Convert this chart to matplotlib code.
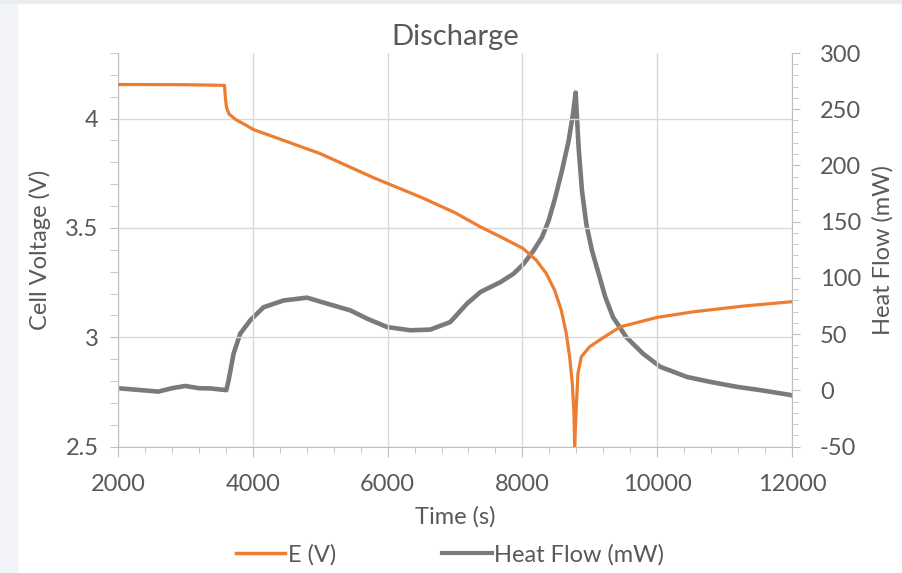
import matplotlib.pyplot as plt
import matplotlib.patches as mpatches
from matplotlib.lines import Line2D
from matplotlib.ticker import MultipleLocator

# ---------- data ----------
time_e = [2000, 3000, 3580, 3595, 3610, 3650, 3750, 3900, 4010, 5000, 5790,
          6500, 7000, 7377, 7674, 8007, 8205, 8354, 8478, 8576, 8651, 8701,
          8740, 8765, 8775, 8800, 8824, 8874, 8998, 9196, 9453, 9997,
          10540, 11282, 12000]
voltage = [4.156, 4.155, 4.152, 4.09, 4.05, 4.02, 3.995, 3.97, 3.95, 3.84, 3.73,
           3.64, 3.57, 3.505, 3.46, 3.407, 3.353, 3.292, 3.216, 3.125, 3.018, 2.911,
           2.79, 2.653, 2.5, 2.683, 2.835, 2.911, 2.957, 2.998, 3.048, 3.091,
           3.117, 3.143, 3.163]

time_h = [2000, 2200, 2400, 2600, 2800, 3000, 3200, 3369, 3607, 3641, 3715,
          3814, 3963, 4160, 4457, 4804, 5101, 5447, 5694, 5991, 6337, 6633,
          6930, 7178, 7377, 7674, 7870, 8018, 8166, 8290, 8389, 8488, 8587,
          8686, 8750, 8790, 8834, 8884, 8948, 9032, 9131, 9230, 9343, 9540,
          9788, 10046, 10442, 10788, 11184, 11530, 11975, 12000]
heat_flow = [2, 1, 0, -1, 2, 4, 2, 1.8, 0.3, 9, 32.8,
             50.6, 62.4, 74, 80, 82.5, 77.2, 71.2, 63.9, 56.4, 53.5, 54.1,
             60.8, 77.2, 87.5, 96.3, 103.8, 112.6, 124.4, 136.2, 151, 171.7, 195.4,
             222, 245.7, 264.8, 216, 177.6, 148, 124.4, 103.8, 83, 65.3, 47.5,
             32.8, 21, 12, 7.6, 3.2, 0.3, -4, -4.5]

ORANGE = "#ED7D31"
GREY = "#7a7a7a"
TXT = "#595959"
AX = "#bfbfbf"

plt.rcParams["font.family"] = ["Lato", "DejaVu Sans"]
plt.rcParams["font.size"] = 17
plt.rcParams["axes.unicode_minus"] = False

fig = plt.figure(figsize=(9.02, 5.73), dpi=100)
fig.patch.set_facecolor("white")
# light frame strips on the left / top like the screenshot
fig.patches.append(mpatches.Rectangle((0, 0), 17 / 902, 1, transform=fig.transFigure,
                                      color="#f1f3f6", zorder=0))
fig.patches.append(mpatches.Rectangle((0, 1 - 3 / 573), 1, 3 / 573, transform=fig.transFigure,
                                      color="#e9ecf1", zorder=0))

ax = fig.add_axes([118 / 902, 1 - 446.7 / 573, (792 - 118) / 902, (446.7 - 53) / 573])
ax2 = ax.twinx()

ax.plot(time_e, voltage, color=ORANGE, lw=2.3, zorder=3, solid_joinstyle="round")
ax2.plot(time_h, heat_flow, color=GREY, lw=3.3, zorder=2, solid_joinstyle="round")
ax.set_zorder(ax2.get_zorder() + 1)
ax.patch.set_visible(False)

ax.set_xlim(2000, 12000)
ax.set_ylim(2.5, 4.3)
ax2.set_ylim(-50, 300)

ax.xaxis.set_major_locator(MultipleLocator(2000))
ax.xaxis.set_minor_locator(MultipleLocator(400))
ax.set_yticks([2.5, 3, 3.5, 4])
ax.set_yticklabels(["2.5", "3", "3.5", "4"])
ax.yaxis.set_minor_locator(MultipleLocator(0.1))
ax2.yaxis.set_major_locator(MultipleLocator(50))
ax2.yaxis.set_minor_locator(MultipleLocator(10))

ax.grid(True, which="major", color="#d9d9d9", lw=1)
ax.set_axisbelow(True)

for a in (ax, ax2):
    for s in a.spines.values():
        s.set_color(AX)
    a.spines["top"].set_visible(False)
ax.spines["right"].set_visible(False)
ax2.spines["left"].set_visible(False)
ax2.spines["bottom"].set_visible(False)

ax.tick_params(axis="x", which="major", length=7.5, color=AX, labelcolor=TXT, pad=12)
ax.tick_params(axis="x", which="minor", length=4, color=AX)
ax.tick_params(axis="y", which="both", length=6, color=AX, labelcolor=TXT, pad=8)
ax2.tick_params(axis="y", which="major", length=6, color=AX, labelcolor=TXT, pad=14)
ax2.tick_params(axis="y", which="minor", length=4, color=AX)

ax.set_xlabel("Time (s)", color=TXT, labelpad=8)
ax.set_ylabel("Cell Voltage (V)", color=TXT, labelpad=10)
ax2.set_ylabel("Heat Flow (mW)", color=TXT, labelpad=8)
ax.set_title("Discharge", color=TXT, pad=6, fontsize=21)

handles = [Line2D([], [], color=ORANGE, lw=2.5), Line2D([], [], color=GREY, lw=3)]
fig.legend(handles, ["E (V)", "Heat Flow (mW)"], loc="center", bbox_to_anchor=(450 / 902, 1 - 555 / 573),
           ncol=2, frameon=False, handlelength=2.1, handletextpad=0.1, columnspacing=4.5,
           labelcolor=TXT)

fig.savefig("out.png", dpi=100, facecolor=fig.get_facecolor())
